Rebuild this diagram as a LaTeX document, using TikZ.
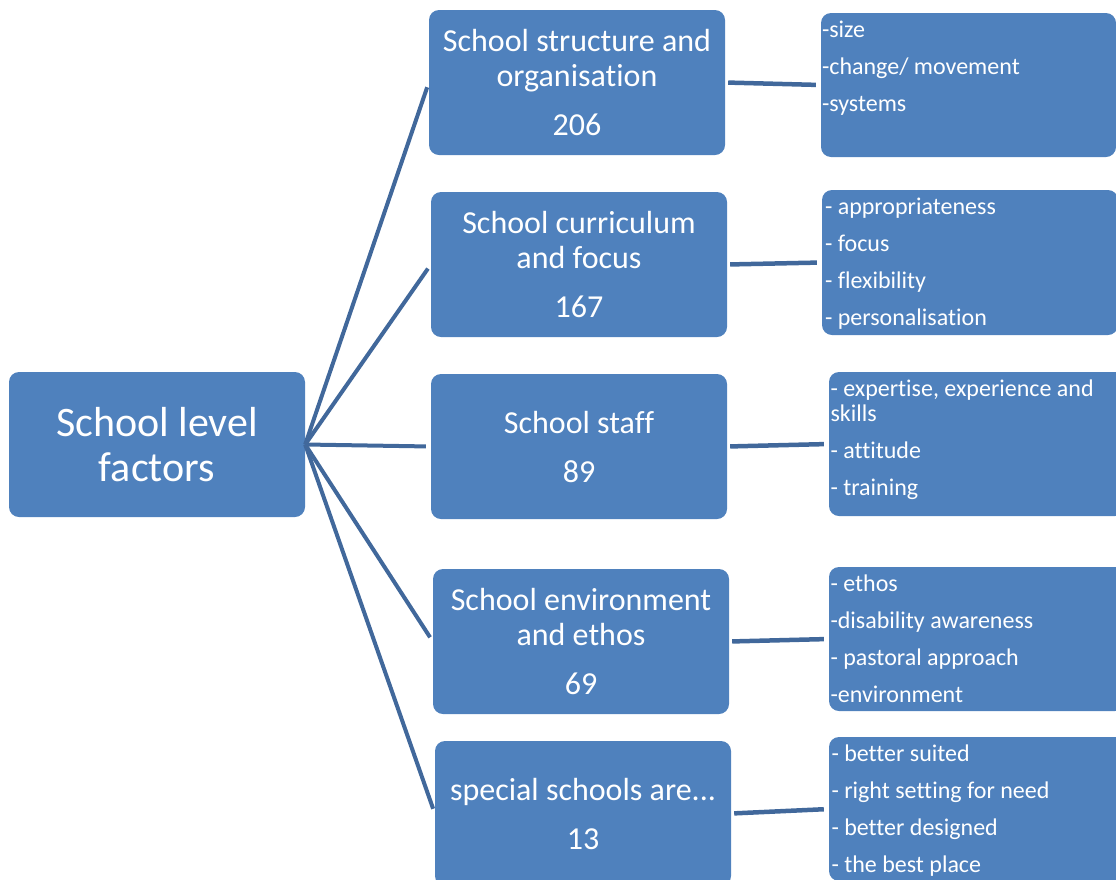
\documentclass[tikz,border=0pt]{standalone}
\usepackage{fontspec}
\setmainfont{Carlito}[Ligatures={NoCommon}]
\definecolor{boxblue}{HTML}{4F81BD}
\definecolor{lineblue}{HTML}{41689B}
\begin{document}
\begin{tikzpicture}[x=1pt,y=-1pt,
  box/.style={fill=boxblue, draw=none, rounded corners=10pt, minimum width=296pt, minimum height=145pt, inner sep=0pt, text=white, align=center},
  midtext/.style={font=\fontsize{32}{35}\selectfont},
  listtext/.style={text=white, align=left, inner sep=0pt, anchor=north west, font=\fontsize{24}{25}\selectfont},
  conn/.style={draw=lineblue, line width=4pt},
  rconn/.style={draw=lineblue, line width=4.5pt, shorten <=3pt, shorten >=5pt}]
\useasboundingbox (0,0) rectangle (1116,879);
\clip (0,0) rectangle (1116,879);
% main
\node[box, font=\fontsize{42}{45}\selectfont] (main) at (157,444.5) {School level\\factors};
% middle boxes
\node[box, midtext] (b1) at (577,82.5) {School structure and\\organisation\\[14pt]206};
\node[box, midtext] (b2) at (579,264.5) {School curriculum\\and focus\\[14pt]167};
\node[box, midtext] (b3) at (579,446.5) {School staff\\[14pt]89};
\node[box, midtext] (b4) at (581,641.5) {School environment\\and ethos\\[14pt]69};
\node[box, midtext] (b5) at (583,813.5) {special schools are...\\[14pt]13};
% right boxes
\node[box, minimum width=295pt, minimum height=144pt] (r1) at (968.5,85) {};
\node[box, minimum height=145pt] (r2) at (970,262.5) {};
\node[box, minimum height=144pt] (r3) at (977,444) {};
\node[box, minimum height=144pt] (r4) at (977,639) {};
\node[box, minimum height=144pt] (r5) at (977,809) {};
% list texts
\node[listtext] (r1t) at ([xshift=1pt,yshift=-6.5pt]r1.north west) {\strut-size\\[12pt]\strut-change/ movement\\[12pt]\strut-systems};
\node[listtext] (r2t) at ([xshift=3pt,yshift=-6.5pt]r2.north west) {\strut- appropriateness\\[12pt]\strut- focus\\[12pt]\strut- flexibility\\[12pt]\strut- personalisation};
\node[listtext] (r3t) at ([xshift=1.5pt,yshift=-6.5pt]r3.north west) {\strut- expertise, experience and\\\strut skills\\[12pt]\strut- attitude\\[12pt]\strut- training};
\node[listtext] (r4t) at ([xshift=1.5pt,yshift=-6.5pt]r4.north west) {\strut- ethos\\[12pt]\strut-disability awareness\\[12pt]\strut- pastoral approach\\[12pt]\strut-environment};
\node[listtext] (r5t) at ([xshift=2.5pt,yshift=-6.5pt]r5.north west) {\strut- better suited\\[12pt]\strut- right setting for need\\[12pt]\strut- better designed\\[12pt]\strut- the best place};
% connectors
\foreach \b in {b1,b2,b3,b4,b5}{
  \draw[conn, shorten >=5pt] (main.east) -- (\b.west);
}
\draw[rconn] (b1.east) -- (r1.west);
\draw[rconn] (b2.east) -- (r2.west);
\draw[rconn] (b3.east) -- (r3.west);
\draw[rconn] (b4.east) -- (r4.west);
\draw[rconn] (b5.east) -- (r5.west);
\end{tikzpicture}
\end{document}
